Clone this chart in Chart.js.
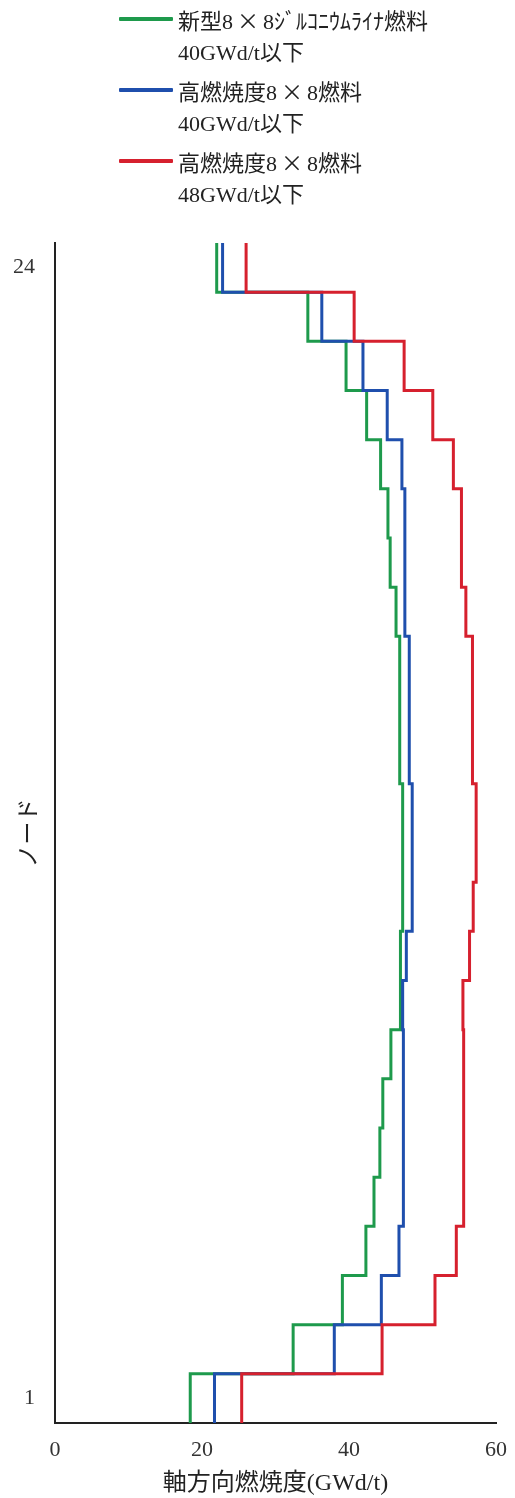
<!DOCTYPE html>
<html lang="ja">
<head>
<meta charset="utf-8">
<script src="https://cdn.jsdelivr.net/npm/chart.js@4/dist/chart.umd.min.js"></script>
<style>
  body { margin: 0; background: #fff; }
  #wrap { position: relative; width: 515px; height: 1498px; }
  #legend {
    position: absolute; left: 119px; top: 4px;
    font-family: "Liberation Serif", "Noto Sans CJK JP", serif;
    font-size: 22px; line-height: 31px; color: #222;
  }
  .item { display: flex; align-items: flex-start; margin-bottom: 7px; }
  .swatch { width: 54px; height: 4px; margin-top: 13px; margin-right: 5px; border-radius: 1px; }
  .times { font-family: "Noto Sans CJK JP", sans-serif; margin: 0 4px; }
</style>
</head>
<body>
<div id="wrap">
  <canvas id="chart"></canvas>
  <div id="legend"></div>
</div>
<script>

/* 軸方向燃焼度分布 */

const seriesNames = [
    ["新型8×8ｼﾞﾙｺﾆｳﾑﾗｲﾅ燃料", "40GWd/t以下"],
    ["高燃焼度8×8燃料", "40GWd/t以下"],
    ["高燃焼度8×8燃料", "48GWd/t以下"]
];

const seriesColors = ["#1e9a4c", "#1f4fad", "#d6202e"];

// burnup per node, node 1 (bottom) .. node 24 (top)
const zrLiner40 = [
    18.4, 32.4, 39.1, 42.3, 43.4, 44.2, 44.6, 45.7, 47.0, 47.0, 47.3, 47.3,
    47.3, 46.9, 46.9, 46.9, 46.4, 45.6, 45.3, 44.3, 42.4, 39.6, 34.4, 22.0
];

const highBurnup40 = [
    21.7, 38.0, 44.4, 46.8, 47.4, 47.4, 47.4, 47.4, 47.3, 47.8, 48.6, 48.6,
    48.6, 48.2, 48.2, 48.2, 47.6, 47.6, 47.6, 47.2, 45.2, 41.9, 36.3, 22.8
];

const highBurnup48 = [
    25.4, 44.5, 51.7, 54.6, 55.6, 55.6, 55.6, 55.6, 55.5, 56.4, 56.9, 57.3,
    57.3, 56.8, 56.8, 56.8, 55.9, 55.3, 55.3, 54.2, 51.4, 47.5, 40.7, 26.0
];

const nodeTicks = [1, 24];
const xTitle = "軸方向燃焼度(GWd/t)";
const yTitle = "ノード";

const fontFamily = '"Liberation Serif", "Noto Sans CJK JP", serif';

// each node is a band [n-1, n]; draw it as a vertical segment
function profile(values) {
    const pts = [];
    values.forEach((v, i) => {
        pts.push({ x: v, y: i });
        pts.push({ x: v, y: i + 1 });
    });
    return pts;
}

const allSeries = [zrLiner40, highBurnup40, highBurnup48];

const datasets = allSeries.map((values, i) => ({
    label: seriesNames[i].join(" "),
    data: profile(values),
    borderColor: seriesColors[i],
    backgroundColor: seriesColors[i],
    borderWidth: 3,
    borderJoinStyle: "miter",
    pointRadius: 0,
    tension: 0,
    order: allSeries.length - i
}));

const legend = document.getElementById("legend");
seriesNames.forEach((lines, i) => {
    const item = document.createElement("div");
    item.className = "item";
    const text = lines
        .map(l => l.replace(/×/g, '<span class="times">×</span>'))
        .join("<br>");
    item.innerHTML =
        `<div class="swatch" style="background:${seriesColors[i]}"></div>` +
        `<div>${text}</div>`;
    legend.appendChild(item);
});

const ctx = document.getElementById("chart").getContext("2d");

new Chart(ctx, {

    type: "line",

    data: { datasets },

    options: {

        responsive: true,

        maintainAspectRatio: false,

        animation: false,

        layout: {

            padding: { top: 243, right: 19, left: 0, bottom: 0 }

        },

        plugins: {

            legend: { display: false },

            tooltip: { enabled: false }

        },

        scales: {

            x: {

                type: "linear",

                min: 0,

                max: 60,

                grid: { display: false, drawTicks: false },

                border: { display: true, color: "#222", width: 2 },

                ticks: {

                    stepSize: 20,

                    padding: 14,

                    color: "#333",

                    font: { family: fontFamily, size: 22 }

                },

                title: {

                    display: true,

                    text: xTitle,

                    color: "#222",

                    padding: { top: 0, bottom: 0 },

                    font: { family: fontFamily, size: 24 }

                },

                afterFit(scale) {

                    scale.height = 75;

                    scale.paddingRight = 0;

                    scale.paddingLeft = 0;

                }

            },

            y: {

                type: "linear",

                min: 0,

                max: 24,

                grid: { display: false, drawTicks: false },

                border: { display: true, color: "#222", width: 2 },

                afterBuildTicks(scale) {

                    scale.ticks = nodeTicks.map(n => ({ value: n - 0.5 }));

                },

                ticks: {

                    padding: 20,

                    color: "#333",

                    font: { family: fontFamily, size: 22 },

                    callback: value => String(value + 0.5)

                },

                title: {

                    display: true,

                    text: yTitle,

                    color: "#222",

                    padding: { top: 16, bottom: 0 },

                    font: { family: fontFamily, size: 23 }

                },

                afterFit(scale) {

                    scale.width = 55;

                }

            }

        }

    }

});

</script>
</body>
</html>
